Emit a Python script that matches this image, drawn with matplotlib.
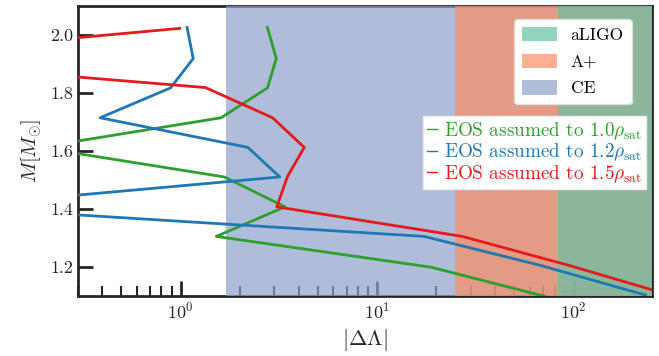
import matplotlib
matplotlib.use("Agg")
import matplotlib.pyplot as plt
from matplotlib.patches import Patch
from matplotlib.lines import Line2D

plt.rcParams["font.family"] = "serif"
plt.rcParams["font.serif"] = ["cmr10", "DejaVu Serif"]
plt.rcParams["mathtext.fontset"] = "cm"
plt.rcParams["axes.formatter.use_mathtext"] = True

# mass grid and |Delta Lambda| for each EOS assumption
mass_10 = [2.026, 1.919, 1.818, 1.715, 1.613, 1.511, 1.408, 1.306, 1.200, 1.100]
dlam_10 = [2.77, 3.07, 2.77, 1.61, 0.19, 1.67, 3.40, 1.52, 18.8, 71.0]

mass_12 = [2.026, 1.919, 1.818, 1.715, 1.613, 1.511, 1.408, 1.306, 1.206, 1.104]
dlam_12 = [1.08, 1.16, 0.89, 0.39, 2.20, 3.20, 0.065, 17.4, 68.0, 232.0]

mass_15 = [2.023, 1.920, 1.819, 1.715, 1.613, 1.512, 1.408, 1.306, 1.206, 1.105]
dlam_15 = [0.99, 0.021, 1.34, 2.94, 4.26, 3.50, 3.09, 27.2, 95.0, 305.0]

series_labels = [
    r"EOS assumed to 1.0$\rho_{\rm sat}$",
    r"EOS assumed to 1.2$\rho_{\rm sat}$",
    r"EOS assumed to 1.5$\rho_{\rm sat}$",
]
series_colors = ["#2ca02c", "#1f77b4", "#e41a1c"]

# detector sensitivity thresholds (lower edges of shaded bands)
detectors = ["CE", "A+", "aLIGO"]
thresholds = [1.7, 25.0, 83.0]
detector_colors = ["#8da0cb", "#fc8d62", "#66c2a5"]

x_max = 250.0

fig = plt.figure(figsize=(6.59, 3.56), dpi=100)
ax = fig.add_axes([0.118, 0.168, 0.871, 0.815])

for name, lo, col in zip(detectors, thresholds, detector_colors):
    ax.axvspan(lo, x_max, color=col, alpha=0.7, lw=0, zorder=3)

curves = [(dlam_10, mass_10), (dlam_12, mass_12), (dlam_15, mass_15)]
for (xs, ys), col in zip(curves, series_colors):
    ax.plot(xs, ys, color=col, lw=2.0, zorder=4)

ax.set_xscale("log")
ax.set_xlim(0.3, x_max)
ax.set_ylim(1.1, 2.1)
ax.set_yticks([1.2, 1.4, 1.6, 1.8, 2.0])
ax.set_yticklabels(["1.2", "1.4", "1.6", "1.8", "2.0"])

for side in ax.spines.values():
    side.set_linewidth(2.0)
    side.set_color("#262626")
ax.tick_params(which="major", direction="in", length=11, width=2,
               color="#262626", labelsize=13, labelcolor="#262626")
ax.tick_params(which="minor", direction="in", length=7, width=1.5,
               color="#262626")
ax.tick_params(axis="y", which="minor", length=0)

ax.set_xlabel(r"$|\Delta\Lambda|$", fontsize=16, color="#262626", labelpad=4)
ax.set_ylabel(r"$M[M_{\odot}]$", fontsize=15, color="#262626", labelpad=4)

det_handles = [Patch(facecolor=c, alpha=0.7, edgecolor="none")
               for c in detector_colors[::-1]]
leg1 = ax.legend(det_handles, detectors[::-1], loc="upper right",
                 bbox_to_anchor=(0.98, 0.985), fontsize=12.5,
                 fancybox=True, framealpha=1.0, edgecolor="#dddddd",
                 handlelength=2.0, handleheight=0.9, labelspacing=0.6,
                 borderpad=0.45)
leg1.set_zorder(6)
ax.add_artist(leg1)

line_handles = [Line2D([], [], color=c, lw=1.0) for c in series_colors]
leg2 = ax.legend(line_handles, series_labels, loc="upper right",
                 bbox_to_anchor=(0.997, 0.633), fontsize=13.8,
                 fancybox=False, framealpha=1.0, edgecolor="#eeeeee",
                 handlelength=0.5, handletextpad=0.4, labelspacing=0.0,
                 borderpad=0.2, borderaxespad=0.2)
for txt, col in zip(leg2.get_texts(), series_colors):
    txt.set_color(col)
leg2.set_zorder(6)

fig.savefig("out.png", dpi=100)
